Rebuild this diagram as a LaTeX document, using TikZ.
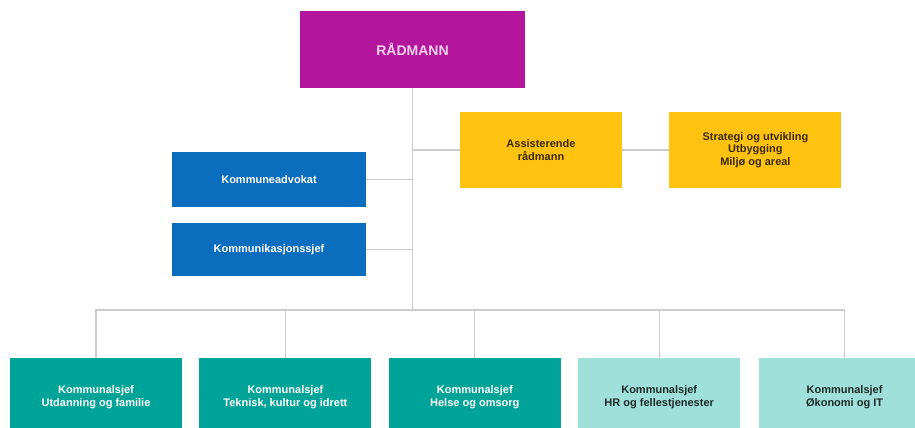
\documentclass[tikz,border=0pt]{standalone}
\usepackage{fontspec}
\setmainfont{Liberation Sans}
\usetikzlibrary{positioning, calc}

\definecolor{radmanncol}{HTML}{B3159C}
\definecolor{radmanntext}{HTML}{F6D2EE}
\definecolor{staffcol}{HTML}{0A6DBD}
\definecolor{assistcol}{HTML}{FFC20E}
\definecolor{assisttext}{HTML}{3A2A05}
\definecolor{unitcol}{HTML}{00A397}
\definecolor{unitlightcol}{HTML}{9FE0DB}
\definecolor{unittextdark}{HTML}{1F2B2B}
\definecolor{linecol}{HTML}{CCCCCC}

\begin{document}
\begin{tikzpicture}[
        x=1pt, y=-1pt,
        node distance=17pt,
        block/.style={
          align=center, inner sep=0pt, font=\bfseries\fontsize{11}{12.5}\selectfont,
          minimum width=172pt, minimum height=78pt
        },
        chief/.style={
          block, fill=radmanncol, text=radmanntext, font=\bfseries\fontsize{14}{16}\selectfont,
          minimum width=225pt, minimum height=77pt
        },
        staff/.style={
          block, fill=staffcol, text=white, minimum width=194pt
        },
        assist/.style={
          block, fill=assistcol, text=assisttext, minimum height=76pt
        },
        unit/.style={
          block, fill=unitcol, text=white
        },
        unitlight/.style={
          block, fill=unitlightcol, text=unittextdark
        },
        orgline/.style={
          draw=linecol, line width=1.1pt
        },
      ]
        \useasboundingbox (0,0) rectangle (915,428);
        \clip (0,0) rectangle (915,428);

        % Top
        \node [chief] (radmann) at (412.5,49.5) {RÅDMANN};
        \node [assist, minimum width=162pt] (assisterende) at (541,150) {Assisterende\\rådmann};
        \node [assist, right=47pt of assisterende] (strategi) {Strategi og utvikling\\Utbygging\\Miljø og areal};

        % Staff
        \node [staff, minimum height=55pt] (advokat) at (269,179.5) {Kommuneadvokat};
        \node [staff, minimum height=53pt, below=16pt of advokat] (kommunikasjon) {Kommunikasjonssjef};

        % Kommunalsjefer
        \node [unit] (utdanning) at (96,397) {Kommunalsjef\\Utdanning og familie};
        \node [unit, right=of utdanning] (teknisk) {Kommunalsjef\\Teknisk, kultur og idrett};
        \node [unit, right=of teknisk] (helse) {Kommunalsjef\\Helse og omsorg};
        \node [unitlight, minimum width=162pt, right=of helse] (hr) {Kommunalsjef\\HR og fellestjenester};
        \node [unitlight, right=18pt of hr] (okonomi) {Kommunalsjef\\Økonomi og IT};

        % Lines
        \coordinate (bus) at (412.5,310);
        \draw [orgline] (radmann.south) -- (bus);
        \draw [orgline] (assisterende.west) -- (assisterende.west -| bus);
        \draw [orgline] (assisterende.east) -- (strategi.west);
        \draw [orgline] (advokat.east) -- (advokat.east -| bus);
        \draw [orgline] (kommunikasjon.east) -- (kommunikasjon.east -| bus);
        \draw [orgline] (utdanning.north) |- (bus);
        \draw [orgline] (teknisk.north) |- (bus);
        \draw [orgline] (helse.north) |- (bus);
        \draw [orgline] (hr.north) |- (bus);
        \draw [orgline] (okonomi.north) |- (bus);

      \end{tikzpicture}
\end{document}
